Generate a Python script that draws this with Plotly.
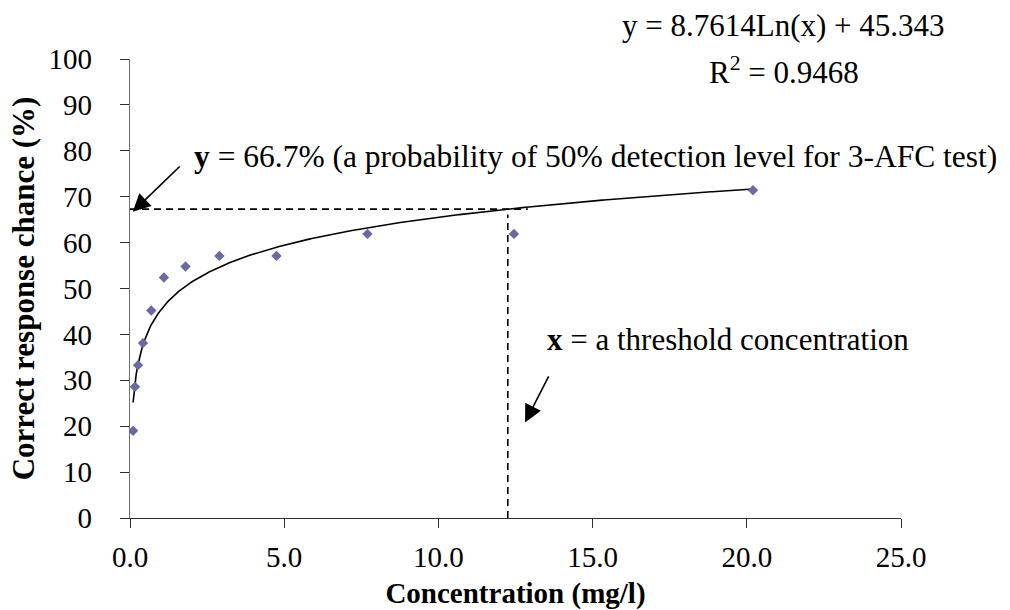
import numpy as np
import plotly.graph_objects as go

# ---- data ----
concentration = [0.10, 0.16, 0.26, 0.42, 0.69, 1.10, 1.80, 2.90, 4.75, 7.70, 12.45, 20.20]
correct_pct = [19.0, 28.6, 33.3, 38.1, 45.2, 52.4, 54.8, 57.1, 57.1, 61.9, 61.9, 71.4]
fit_slope = 8.7614
fit_intercept = 45.343
r_squared = 0.9468
y_level = 67.3          # drawn 66.7 % line
x_threshold = 12.25     # drawn threshold line
h_line_end = 12.9
x_ticks = [0, 5, 10, 15, 20, 25]
x_tick_labels = ["0.0", "5.0", "10.0", "15.0", "20.0", "25.0"]
y_ticks = [0, 10, 20, 30, 40, 50, 60, 70, 80, 90, 100]

FONT = "Liberation Serif, Times New Roman, serif"

# trend line from the displayed equation
xs_fit = np.linspace(min(concentration), max(concentration), 400)
ys_fit = fit_slope * np.log(xs_fit) + fit_intercept

fig = go.Figure()
fig.add_trace(go.Scatter(x=[0, h_line_end], y=[y_level, y_level], mode="lines",
                         line=dict(color="black", width=1.6, dash="7px,5px"),
                         hoverinfo="skip", showlegend=False))
fig.add_trace(go.Scatter(x=[x_threshold, x_threshold], y=[0, y_level - 1.2], mode="lines",
                         line=dict(color="black", width=1.6, dash="7px,5px"),
                         hoverinfo="skip", showlegend=False))
fig.add_trace(go.Scatter(x=xs_fit, y=ys_fit, mode="lines",
                         line=dict(color="black", width=1.6), showlegend=False))
fig.add_trace(go.Scatter(x=concentration, y=correct_pct, mode="markers",
                         marker=dict(symbol="diamond", size=8, color="#6a6aa3"),
                         showlegend=False))

annotations = [
    dict(x=0.848, y=1.074, xref="paper", yref="paper", showarrow=False,
         text=f"y = {fit_slope}Ln(x) + {fit_intercept}", font=dict(size=31, family=FONT, color="black"),
         xanchor="center", yanchor="middle"),
    dict(x=0.848, y=0.976, xref="paper", yref="paper", showarrow=False,
         text=f"R<sup>2</sup> = {r_squared}", font=dict(size=31, family=FONT, color="black"),
         xanchor="center", yanchor="middle"),
    dict(x=2.0, y=78.8, xref="x", yref="y", showarrow=False,
         text="<b>y</b> = 66.7% (a probability of 50% detection level for 3-AFC test)",
         font=dict(size=31.5, family=FONT, color="black"), xanchor="left", yanchor="middle"),
    dict(x=13.45, y=38.8, xref="x", yref="y", showarrow=False,
         text="<b>x</b> = a threshold concentration",
         font=dict(size=31, family=FONT, color="black"), xanchor="left", yanchor="middle"),
    # arrows
    dict(x=0.09, y=66.7, xref="x", yref="y", ax=1.66, ay=76.9, axref="x", ayref="y",
         text="", showarrow=True, arrowhead=2, arrowsize=2.2, arrowwidth=1.6, arrowcolor="black"),
    dict(x=12.81, y=20.8, xref="x", yref="y", ax=13.6, ay=31.2, axref="x", ayref="y",
         text="", showarrow=True, arrowhead=2, arrowsize=2.2, arrowwidth=1.6, arrowcolor="black"),
]

fig.update_layout(
    width=1010, height=610,
    margin=dict(l=130, r=109, t=59, b=92, autoexpand=False),
    paper_bgcolor="white", plot_bgcolor="white",
    font=dict(family=FONT, size=29, color="black"),
    annotations=annotations,
    showlegend=False,
)
fig.update_xaxes(range=[0, 25], tickvals=x_ticks, ticktext=x_tick_labels, automargin=False,
                 showgrid=False, zeroline=False, showline=True, linecolor="#303030", linewidth=1.3,
                 ticks="outside", ticklen=9, tickcolor="#303030", tickwidth=1.3,
                 tickfont=dict(size=29, family=FONT, color="black"), ticklabelstandoff=4,
                 title=dict(text="<b>Concentration (mg/l)</b>", font=dict(size=29, family=FONT),
                            standoff=12))
fig.update_yaxes(range=[0, 100], tickvals=y_ticks, automargin=False,
                 showgrid=False, zeroline=False, showline=True, linecolor="#707070", linewidth=1.3,
                 ticks="outside", ticklen=9, tickcolor="#303030", tickwidth=1.3,
                 tickfont=dict(size=29, family=FONT, color="black"), ticklabelstandoff=22,
                 title=dict(text="<b>Correct response chance (%)</b>", font=dict(size=31, family=FONT),
                            standoff=4))

fig.write_html("out.html")
